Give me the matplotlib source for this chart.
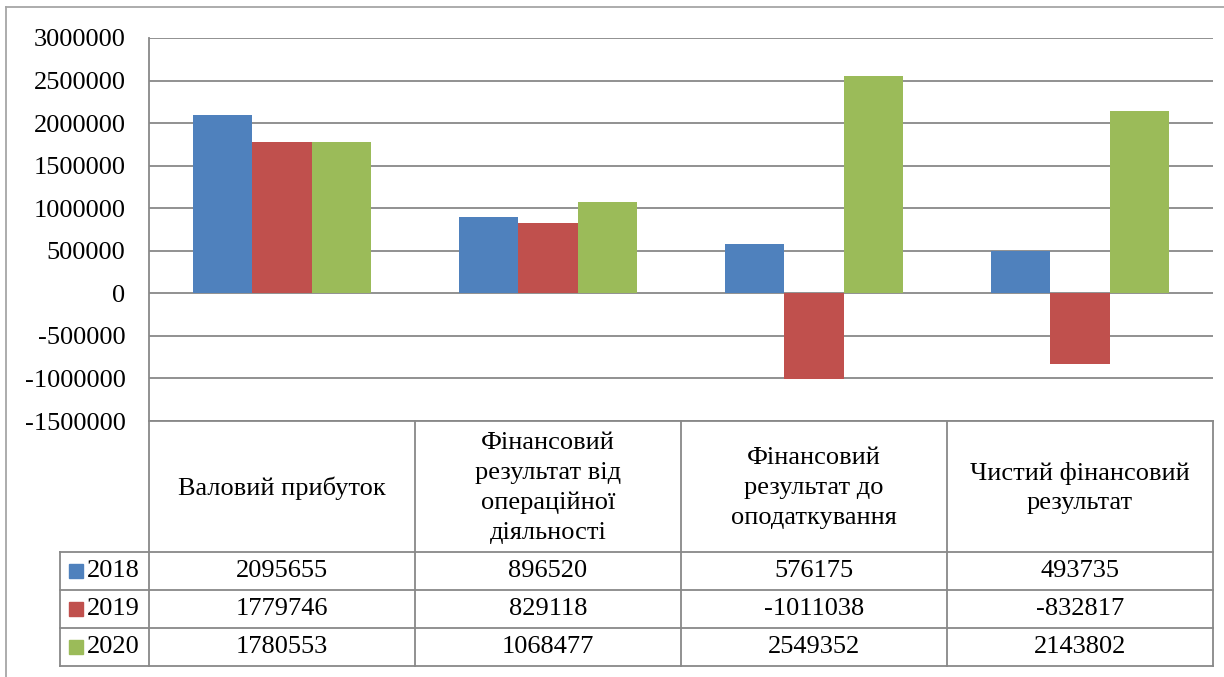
import matplotlib.pyplot as plt
import matplotlib.patches as mpatches
import numpy as np

plt.rcParams['font.family'] = ['Liberation Serif', 'DejaVu Serif']

categories = ['Валовий прибуток',
              'Фінансовий\nрезультат від\nопераційної\nдіяльності',
              'Фінансовий\nрезультат до\nоподаткування',
              'Чистий фінансовий\nрезультат']
years = ['2018', '2019', '2020']
v2018 = [2095655, 896520, 576175, 493735]
v2019 = [1779746, 829118, -1011038, -832817]
v2020 = [1780553, 1068477, 2549352, 2143802]
yticks = [3000000, 2500000, 2000000, 1500000, 1000000, 500000, 0,
          -500000, -1000000, -1500000]

colors = ['#4F81BD', '#C0504D', '#9BBB59']
grid_c = '#888888'
W, H = 1224, 677
FS = 19

fig = plt.figure(figsize=(W / 100, H / 100), dpi=100)

# chart area (pixel coords converted)
def fx(px):
    return px / W

def fy(py):
    return 1 - py / H

ax = fig.add_axes([fx(149), fy(421), fx(1213) - fx(149), fy(38) - fy(421)])
x = np.arange(len(categories)) + 0.5
bw = 59.5 / 266
for i, vals in enumerate([v2018, v2019, v2020]):
    ax.bar(x + (i - 1) * bw, vals, bw, color=colors[i], zorder=3)

ax.set_xlim(0, 4)
ax.set_ylim(-1500000, 3000000)
ax.set_yticks(yticks)
ax.set_yticklabels([str(t) for t in yticks], fontsize=FS)
ax.tick_params(axis='y', length=0, pad=17)
ax.set_xticks([])
ax.grid(axis='y', color=grid_c, linewidth=1.3, zorder=0)
for s in ['top', 'right', 'bottom']:
    ax.spines[s].set_visible(False)
ax.spines['left'].set_color(grid_c)
ax.spines['left'].set_linewidth(1.3)

# data table below
tx0 = (60 - 149) / 266
tab = fig.add_axes([fx(60), fy(666), fx(1213) - fx(60), fy(421) - fy(666)])
tab.set_xlim(tx0, 4)
tab.set_ylim(666, 421)
tab.axis('off')

lk = dict(color=grid_c, linewidth=1.3, clip_on=False)
for c in range(5):
    tab.plot([c, c], [421, 666], **lk)
tab.plot([tx0, tx0], [552, 666], **lk)
tab.plot([0, 4], [421, 421], **lk)
for r in [552, 590, 628, 666]:
    tab.plot([tx0, 4], [r, r], **lk)

for c, name in enumerate(categories):
    tab.text(c + 0.5, 488, name, ha='center', va='center', fontsize=FS,
             linespacing=1.47)

rows_y = [571, 609, 647]
for i, vals in enumerate([v2018, v2019, v2020]):
    for c, v in enumerate(vals):
        tab.text(c + 0.5, rows_y[i], str(v), ha='center', va='center',
                 fontsize=FS)
    sq = (14 / 266)
    tab.add_patch(mpatches.Rectangle(((69 - 149) / 266, rows_y[i] - 7), sq, 14,
                                     color=colors[i], clip_on=False))
    tab.text((87 - 149) / 266, rows_y[i], years[i], ha='left', va='center',
             fontsize=FS)

# outer frame (top and left edges)
fig.add_artist(plt.Line2D([fx(6), 1], [fy(7), fy(7)], color='#A6A6A6',
                          linewidth=1.3))
fig.add_artist(plt.Line2D([fx(6), fx(6)], [0, fy(7)], color='#A6A6A6',
                          linewidth=1.3))

fig.savefig('out.png', dpi=100)
